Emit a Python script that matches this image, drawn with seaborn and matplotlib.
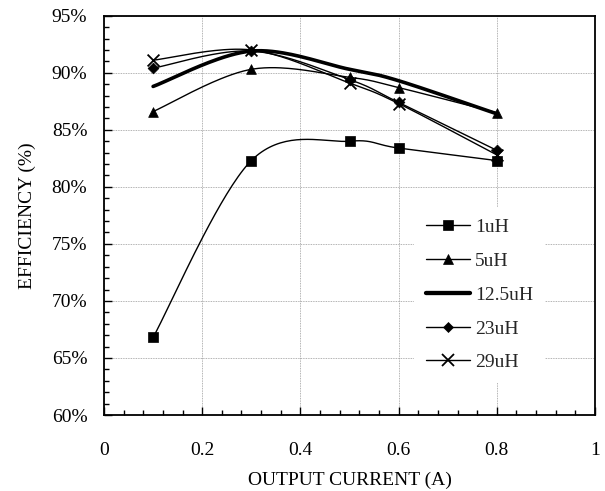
import numpy as np
import pandas as pd
import matplotlib
matplotlib.use("Agg")
import matplotlib.pyplot as plt
from matplotlib.lines import Line2D
from matplotlib.ticker import MultipleLocator, FuncFormatter
import seaborn as sns

# Measured efficiency (%) versus output current (A) for each inductor value
current = [0.1, 0.3, 0.5, 0.6, 0.8]
eff_1uH = [66.8, 82.3, 84.0, 83.4, 82.3]
eff_5uH = [86.6, 90.3, 89.6, 88.7, 86.5]
eff_12_5uH = [88.8, 91.9, 90.3, 89.3, 86.4]
eff_23uH = [90.4, 91.9, 89.4, 87.4, 83.2]
eff_29uH = [91.1, 92.0, 89.1, 87.3, 82.8]
labels = ["1uH", "5uH", "12.5uH", "23uH", "29uH"]
x_ticks = [0, 0.2, 0.4, 0.6, 0.8, 1]

series = [eff_1uH, eff_5uH, eff_12_5uH, eff_23uH, eff_29uH]
markers = ["s", "^", None, "D", "x"]
marker_sizes = [6.5, 7.0, 0, 5.5, 8.5]
widths = [1.0, 1.0, 2.6, 1.0, 1.0]


def smooth_curve(xs, ys, steps=40):
    """Smoothed connecting line (cubic Bezier through the points, Catmull-Rom tangents)."""
    p = np.column_stack([xs, ys]).astype(float)
    p = np.vstack([p[0], p, p[-1]])
    t = np.linspace(0, 1, steps)[:, None]
    out = []
    for i in range(1, len(p) - 2):
        p0, p1, p2, p3 = p[i - 1], p[i], p[i + 1], p[i + 2]
        c1 = p1 + (p2 - p0) / 6.0
        c2 = p2 - (p3 - p1) / 6.0
        seg = ((1 - t) ** 3) * p1 + 3 * ((1 - t) ** 2) * t * c1 + 3 * (1 - t) * t ** 2 * c2 + t ** 3 * p2
        out.append(seg if i == 1 else seg[1:])
    out = np.vstack(out)
    return out[:, 0], out[:, 1]


sns.set_theme(style="ticks")
plt.rcParams["font.family"] = ["Liberation Serif", "DejaVu Serif"]
plt.rcParams["mathtext.fontset"] = "stix"

fig = plt.figure(figsize=(6.05, 4.91), dpi=100)
ax = fig.add_axes([104 / 605, 1 - 415 / 491, 491 / 605, (415 - 15.7) / 491])

points = pd.DataFrame({
    "current": np.tile(current, len(labels)),
    "eff": np.concatenate(series),
    "series": np.repeat(labels, len(current)),
})

for lab, ys, mk, ms, lw in zip(labels, series, markers, marker_sizes, widths):
    sx, sy = smooth_curve(current, ys)
    curve = pd.DataFrame({"current": sx, "eff": sy})
    sns.lineplot(data=curve, x="current", y="eff", sort=False, estimator=None,
                 color="black", linewidth=lw, ax=ax, zorder=3)
    if mk is not None:
        sub = points[points["series"] == lab]
        if mk == "x":
            sns.scatterplot(data=sub, x="current", y="eff", marker="x", s=ms ** 2,
                            color="black", linewidth=1.3, ax=ax, zorder=4)
        else:
            sns.scatterplot(data=sub, x="current", y="eff", marker=mk, s=ms ** 2,
                            color="black", edgecolor="black", linewidth=0.5, ax=ax, zorder=4)

ax.set_xlim(0, 1)
ax.set_ylim(60, 95)
ax.set_xticks(x_ticks)
ax.xaxis.set_major_formatter(FuncFormatter(lambda v, p: f"{v:g}"))
ax.xaxis.set_minor_locator(MultipleLocator(0.04))
ax.yaxis.set_major_locator(MultipleLocator(5))
ax.yaxis.set_minor_locator(MultipleLocator(1))
ax.yaxis.set_major_formatter(FuncFormatter(lambda v, p: f"{v:.0f}%"))

ax.grid(True, which="major", color="#999999", linestyle=(0, (1, 1)), linewidth=0.6, zorder=0)
ax.set_axisbelow(True)
for s in ax.spines.values():
    s.set_color("black")
    s.set_linewidth(1.3)

ax.tick_params(which="both", direction="in", color="black", width=1.0,
               labelsize=14, labelcolor="black", top=False, right=False)
ax.tick_params(which="major", length=6)
ax.tick_params(which="minor", length=3.5)
ax.tick_params(axis="x", which="major", pad=19.5)
ax.tick_params(axis="y", which="major", pad=12)

ax.set_xlabel("OUTPUT CURRENT (A)", fontsize=14, color="black", labelpad=9)
ax.set_ylabel("EFFICIENCY (%)", fontsize=14, color="black", labelpad=11)

handles = []
for lab, mk, ms, lw in zip(labels, markers, marker_sizes, widths):
    handles.append(Line2D([0], [0], color="black", linewidth=lw + (0.5 if mk is None else 0),
                          marker=mk if mk else None, markersize=ms,
                          markeredgewidth=1.3 if mk == "x" else 0.5))

leg = ax.legend(handles, labels, loc="upper left", bbox_to_anchor=(414 / 605, 1 - 207 / 491),
                bbox_transform=fig.transFigure, frameon=True, fancybox=False,
                facecolor="white", edgecolor="none", framealpha=1.0,
                fontsize=14, borderpad=0.6, borderaxespad=0, handlelength=2.3,
                handletextpad=0.25, labelspacing=0.83)
leg.set_zorder(5)

fig.savefig("out.png", dpi=100, facecolor="white")
